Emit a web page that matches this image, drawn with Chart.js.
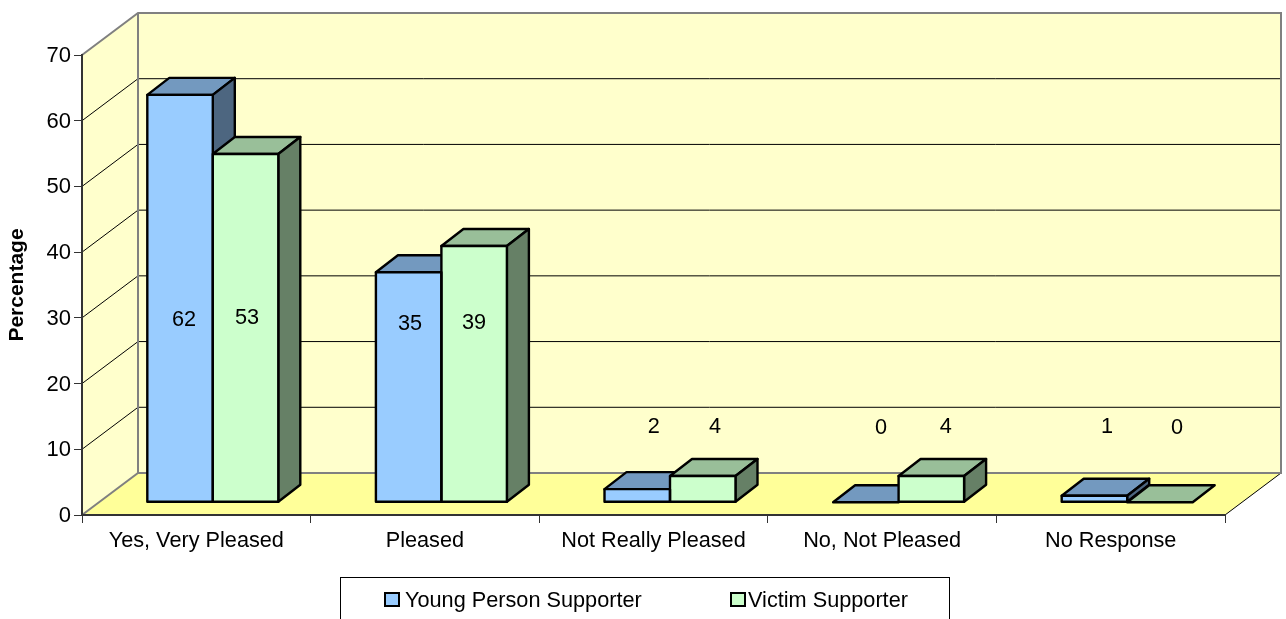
<!DOCTYPE html>
<html>
<head>
<meta charset="utf-8">
<title>Supporter satisfaction</title>
<script src="https://cdn.jsdelivr.net/npm/chart.js@4"></script>
<style>
    html, body { margin: 0; padding: 0; background: #fff; overflow: hidden; }
    canvas { display: block; }
</style>
</head>
<body>
<canvas id="chart" width="1286" height="619"></canvas>
<script>
// Values
const categories = ['Yes, Very Pleased', 'Pleased', 'Not Really Pleased', 'No, Not Pleased', 'No Response'];
const youngPerson = [62, 35, 2, 0, 1];
const victim = [53, 39, 4, 4, 0];
const seriesNames = ['Young Person Supporter', 'Victim Supporter'];
const yMax = 70;
const yStep = 10;

const FONT = '"Liberation Sans", Arial, sans-serif';
const TEXT_SIZE = 21.7;
const EDGE = 2.4;

// Fake 3D geometry
const WALL = { dx: 56, dy: -42 };      // front plane to back wall
const BAR_SHIFT = { dx: 16.5, dy: -12.7 }; // front plane to bar fronts
const BAR_DEPTH = { dx: 22, dy: -17 };

// Excel places the value labels oddly, offsets from the middle of each bar
const labelNudge = [
    [[20.5, 8.7], [17.9, -76], [33, -81.4], [31.6, -87], [29, -84.7]],
    [[18, -22.9], [16.3, -63.9], [28.8, -74.9], [31, -74.9], [33.5, -87]]
];

function poly(ctx, pts, fill, stroke, width) {
    ctx.beginPath();
    pts.forEach((p, i) => i ? ctx.lineTo(p[0], p[1]) : ctx.moveTo(p[0], p[1]));
    ctx.closePath();
    if (fill) { ctx.fillStyle = fill; ctx.fill(); }
    if (stroke) { ctx.strokeStyle = stroke; ctx.lineWidth = width; ctx.stroke(); }
}

function line(ctx, x1, y1, x2, y2, color, width) {
    ctx.beginPath();
    ctx.moveTo(x1, y1);
    ctx.lineTo(x2, y2);
    ctx.strokeStyle = color;
    ctx.lineWidth = width;
    ctx.stroke();
}

// Walls, floor and gridlines
const wallsPlugin = {
    id: 'walls',
    beforeDraw(chart) {
        const ctx = chart.ctx;
        const { left, right, top, bottom } = chart.chartArea;
        const y = chart.scales.y;
        const { dx, dy } = WALL;

        // y tick labels sit a pixel lower in the reference
        y.getLabelItems(chart.chartArea).forEach((item) => { item.textOffset = 1; });

        ctx.save();
        poly(ctx, [[left + dx, top + dy], [right + dx, top + dy], [right + dx, bottom + dy], [left + dx, bottom + dy]], '#FFFFCC');
        poly(ctx, [[left, top], [left + dx, top + dy], [left + dx, bottom + dy], [left, bottom]], '#FFFFCC');
        poly(ctx, [[left, bottom], [left + dx, bottom + dy], [right + dx, bottom + dy], [right, bottom]], '#FFFF99');

        for (let v = yStep; v < yMax; v += yStep) {
            const py = y.getPixelForValue(v);
            line(ctx, left, py, left + dx, py + dy, '#000', 1);
            line(ctx, left + dx, py + dy, right + dx, py + dy, '#000', 1);
        }

        line(ctx, right, bottom, right + dx, bottom + dy, '#000', 1);
        ctx.lineJoin = 'miter';
        ctx.strokeStyle = '#808080';
        ctx.lineWidth = 2;
        ctx.beginPath();
        ctx.moveTo(left, top);
        ctx.lineTo(left + dx, top + dy);
        ctx.lineTo(right + dx, top + dy);
        ctx.lineTo(right + dx, bottom + dy);
        ctx.lineTo(left + dx, bottom + dy);
        ctx.lineTo(left, bottom);
        ctx.moveTo(left + dx, top + dy);
        ctx.lineTo(left + dx, bottom + dy);
        ctx.stroke();
        ctx.restore();
    }
};

// Moves the library's bars back from the front plane. Tops and sides go in first,
// series by series, so the fronts the library paints afterwards cover what they should.
const boxPlugin = {
    id: 'box',
    beforeDatasetsDraw(chart) {
        const ctx = chart.ctx;
        const { dx, dy } = BAR_DEPTH;
        ctx.save();
        ctx.translate(BAR_SHIFT.dx, BAR_SHIFT.dy);
        ctx.lineJoin = 'round';
        chart.data.datasets.forEach((ds, s) => {
            chart.getDatasetMeta(s).data.forEach((bar) => {
                const half = bar.width / 2;
                const l = bar.x - half, r = bar.x + half, t = bar.y, b = bar.base;
                poly(ctx, [[l, t], [l + dx, t + dy], [r + dx, t + dy], [r, t]], ds.topColor, '#000', EDGE);
                if (b - t > 0.5) {
                    poly(ctx, [[r, t], [r + dx, t + dy], [r + dx, b + dy], [r, b]], ds.sideColor, '#000', EDGE);
                }
            });
        });
        ctx.restore();
    },
    beforeDatasetDraw(chart) {
        chart.ctx.save();
        chart.ctx.translate(BAR_SHIFT.dx, BAR_SHIFT.dy);
    },
    afterDatasetDraw(chart) {
        chart.ctx.restore();
    },
    afterDatasetsDraw(chart) {
        const ctx = chart.ctx;
        ctx.save();
        ctx.translate(BAR_SHIFT.dx, BAR_SHIFT.dy);
        ctx.lineJoin = 'round';
        chart.data.datasets.forEach((ds, s) => {
            chart.getDatasetMeta(s).data.forEach((bar) => {
                const half = bar.width / 2;
                if (bar.base - bar.y > 0.5) {
                    ctx.strokeStyle = '#000';
                    ctx.lineWidth = EDGE;
                    ctx.strokeRect(bar.x - half, bar.y, bar.width, bar.base - bar.y);
                }
            });
        });
        ctx.restore();
    }
};

// Value labels and the legend box
const labelsPlugin = {
    id: 'labels',
    afterDatasetsDraw(chart) {
        const ctx = chart.ctx;
        ctx.save();
        ctx.font = TEXT_SIZE + 'px ' + FONT;
        ctx.fillStyle = '#000';
        ctx.textAlign = 'center';
        ctx.textBaseline = 'middle';
        chart.data.datasets.forEach((ds, s) => {
            chart.getDatasetMeta(s).data.forEach((bar, i) => {
                const n = labelNudge[s][i];
                ctx.fillText(ds.data[i], bar.x + n[0], (bar.y + bar.base) / 2 + n[1]);
            });
        });
        ctx.restore();
    },
    afterDraw(chart) {
        const ctx = chart.ctx;
        ctx.save();
        ctx.strokeStyle = '#000';
        ctx.lineWidth = 1;
        ctx.strokeRect(340.5, 577.5, 609, 60);
        ctx.font = TEXT_SIZE + 'px ' + FONT;
        ctx.textAlign = 'left';
        ctx.textBaseline = 'middle';
        const swatchX = [385, 731];
        const textX = [405, 748];
        chart.data.datasets.forEach((ds, s) => {
            ctx.fillStyle = ds.backgroundColor;
            ctx.fillRect(swatchX[s], 593, 14, 13);
            ctx.strokeStyle = '#000';
            ctx.lineWidth = 2;
            ctx.strokeRect(swatchX[s], 593, 14, 13);
            ctx.fillStyle = '#000';
            ctx.fillText(ds.label, textX[s], 601);
        });
        ctx.restore();
    }
};

new Chart(document.getElementById('chart').getContext('2d'), {
    type: 'bar',
    data: {
        labels: categories,
        datasets: [{
            label: seriesNames[0],
            data: youngPerson,
            backgroundColor: '#99CCFF',
            topColor: '#7399BF',
            sideColor: '#4D6680',
            borderWidth: 0,
            clip: false
        }, {
            label: seriesNames[1],
            data: victim,
            backgroundColor: '#CCFFCC',
            topColor: '#99BF99',
            sideColor: '#668066',
            borderWidth: 0,
            clip: false
        }]
    },
    options: {
        responsive: false,
        animation: false,
        layout: { padding: { top: 55, right: 61, left: 0, bottom: 0 } },
        categoryPercentage: 0.573,
        barPercentage: 1,
        plugins: { legend: { display: false }, tooltip: { enabled: false } },
        scales: {
            x: {
                afterFit(scale) { scale.height = 104; },
                border: { color: '#333', width: 2 },
                grid: { drawOnChartArea: false, color: '#333', tickLength: 8 },
                ticks: { color: '#000', font: { family: FONT, size: TEXT_SIZE }, padding: 5, autoSkip: false, maxRotation: 0 }
            },
            y: {
                min: 0,
                max: yMax,
                afterFit(scale) { scale.width = 82; },
                border: { color: '#333', width: 2 },
                grid: { drawOnChartArea: false, color: '#333', tickLength: 8 },
                ticks: { stepSize: yStep, color: '#000', font: { family: FONT, size: 22 }, padding: 3 },
                title: { display: true, text: 'Percentage', color: '#000', font: { family: FONT, size: 21, weight: 'bold' }, padding: { top: 5, bottom: 0 } }
            }
        }
    },
    plugins: [wallsPlugin, boxPlugin, labelsPlugin]
});
</script>
</body>
</html>
